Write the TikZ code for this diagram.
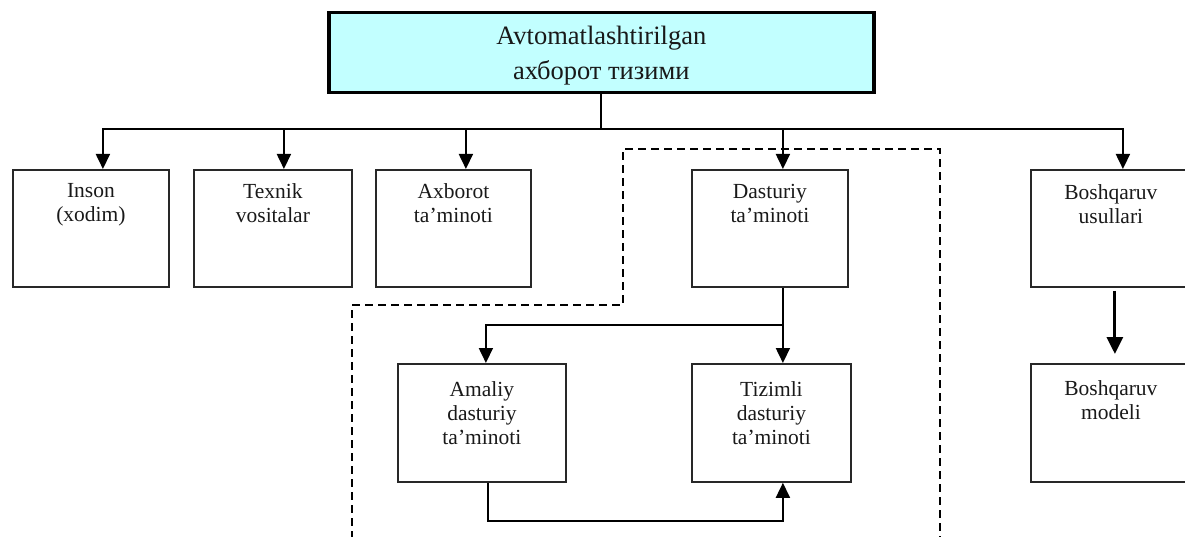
\documentclass[tikz,border=0pt]{standalone}
\usepackage{fontspec}
\setmainfont{Liberation Serif}
\usetikzlibrary{arrows.meta}
\definecolor{topc}{RGB}{194,255,255}
\definecolor{boxc}{RGB}{40,40,40}
\definecolor{txtc}{RGB}{25,25,25}
\begin{document}
\begin{tikzpicture}[x=1pt,y=-1pt,
  box/.style={draw=boxc, line width=1.8pt, inner sep=0pt, anchor=north west,
    minimum width=156pt, minimum height=117pt},
  txt/.style={anchor=north, align=center, inner sep=0pt,
    font=\fontsize{21.5}{24}\selectfont, text=txtc},
  conn/.style={line width=1.8pt, draw=black},
  arr/.style={conn, -{Triangle[width=14pt,length=15pt]}},
  bigarr/.style={line width=3pt, draw=black, -{Triangle[width=16pt,length=17pt]}},
  dashbox/.style={draw=black, line width=2.4pt, dash pattern=on 8pt off 5pt}]
\useasboundingbox (0,0) rectangle (1185,537);

% dashed region
\draw[dashbox] (352,538.6) -- (352,305) -- (623,305) -- (623,149) -- (940,149) -- (940,538.6) -- cycle;

% top box
\node[box, fill=topc, draw=black, line width=3.5pt, minimum width=545pt, minimum height=80pt] (top) at (327,11) {};
\node[align=center, font=\fontsize{26.5}{35}\selectfont, text=txtc, inner sep=0pt] (topT)
  at ([yshift=-3pt]top.center) {Avtomatlashtirilgan\\ахборот тизими};

% first row
\node[box] (inson) at (12,169) {};
\node[box, minimum width=158pt] (texnik) at (193,169) {};
\node[box, minimum width=155pt] (axborot) at (375,169) {};
\node[box] (dasturiy) at (691,169) {};
\node[box, minimum width=160pt] (usullari) at (1030,169) {};

% second row
\node[box, minimum width=168pt, minimum height=118pt] (amaliy) at (397,363) {};
\node[box, minimum width=159pt, minimum height=118pt] (tizimli) at (691,363) {};
\node[box, minimum width=160pt, minimum height=118pt] (modeli) at (1030,363) {};

% texts
\node[txt] (insonT) at ([yshift=-14pt]inson.north) {Inson\\(xodim)};
\node[txt] (texnikT) at ([yshift=-14pt]texnik.north) {Texnik\\vositalar};
\node[txt] (axborotT) at ([yshift=-14pt]axborot.north) {Axborot\\ta’minoti};
\node[txt] (dasturiyT) at ([yshift=-15pt]dasturiy.north) {Dasturiy\\ta’minoti};
\node[txt] (usullariT) at ([yshift=-15pt]usullari.north) {Boshqaruv\\usullari};
\node[txt] (amaliyT) at ([yshift=-18pt]amaliy.north) {Amaliy\\dasturiy\\ta’minoti};
\node[txt] (tizimliT) at ([yshift=-18pt]tizimli.north) {Tizimli\\dasturiy\\ta’minoti};
\node[txt] (modeliT) at ([yshift=-17pt]modeli.north) {Boshqaruv\\modeli};

% connectors
\coordinate (bus) at (top.south |- 0,129);
\draw[conn] (top.south) -- (bus);
\draw[arr] (bus) -| ([xshift=12pt]inson.north);
\draw[arr] (bus) -| ([xshift=11pt]texnik.north);
\draw[arr] (bus) -| ([xshift=12.5pt]axborot.north);
\draw[arr] (bus) -| ([xshift=13pt]dasturiy.north);
\draw[arr] (bus) -| ([xshift=12pt]usullari.north);

\coordinate (br) at ([xshift=13pt]dasturiy.south |- 0,325);
\draw[arr] (br |- dasturiy.south) -- (br) -- (br |- tizimli.north);
\draw[arr] (br) -| ([xshift=4pt]amaliy.north);
\draw[arr] ([xshift=6pt]amaliy.south) -- ++(0,38) -| (br |- tizimli.south);

\draw[bigarr, shorten >=9pt] ([xshift=4pt,yshift=-3pt]usullari.south) -- ([xshift=4pt]usullari.south |- modeli.north);
\end{tikzpicture}
\end{document}
